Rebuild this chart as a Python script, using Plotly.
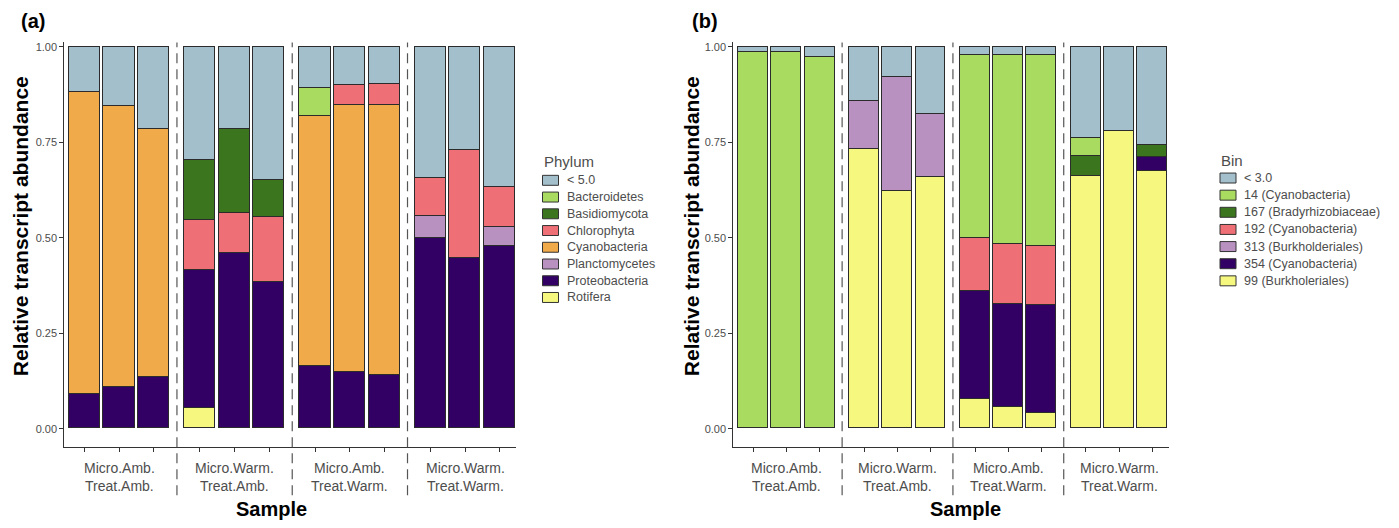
import plotly.graph_objects as go

W, H = 1399, 528

# ---------------- data ----------------
group_labels = ["Micro.Amb.<br>Treat.Amb.", "Micro.Warm.<br>Treat.Amb.",
                "Micro.Amb.<br>Treat.Warm.", "Micro.Warm.<br>Treat.Warm."]
reps_per_group = 3

# Panel (a): Phylum, segment sizes for 12 samples (3 per group)
phylum_names = ["< 5.0", "Bacteroidetes", "Basidiomycota", "Chlorophyta",
                "Cyanobacteria", "Planctomycetes", "Proteobacteria", "Rotifera"]
phylum_colors = ["#A3BFCC", "#A9DB61", "#3B761E", "#EE6F75",
                 "#F1AA4A", "#B991C1", "#320064", "#F5F77F"]
a_lt5 = [0.120, 0.155, 0.216, 0.298, 0.217, 0.350, 0.108, 0.100, 0.097, 0.343, 0.270, 0.367]
a_bacteroidetes = [0, 0, 0, 0, 0, 0, 0.074, 0, 0, 0, 0, 0]
a_basidiomycota = [0, 0, 0, 0.156, 0.218, 0.096, 0, 0, 0, 0, 0, 0]
a_chlorophyta = [0, 0, 0, 0.131, 0.106, 0.170, 0, 0.052, 0.055, 0.101, 0.283, 0.105]
a_cyanobacteria = [0.789, 0.737, 0.649, 0, 0, 0, 0.655, 0.701, 0.709, 0, 0, 0]
a_planctomycetes = [0, 0, 0, 0, 0, 0, 0, 0, 0, 0.056, 0, 0.051]
a_proteobacteria = [0.091, 0.108, 0.135, 0.362, 0.459, 0.384, 0.163, 0.147, 0.139, 0.500, 0.447, 0.477]
a_rotifera = [0, 0, 0, 0.053, 0, 0, 0, 0, 0, 0, 0, 0]

# Panel (b): Bin
bin_names = ["< 3.0", "14 (Cyanobacteria)", "167 (Bradyrhizobiaceae)", "192 (Cyanobacteria)",
             "313 (Burkholderiales)", "354 (Cyanobacteria)", "99 (Burkholeriales)"]
bin_colors = ["#A3BFCC", "#A9DB61", "#3B761E", "#EE6F75", "#B991C1", "#320064", "#F5F77F"]
b_lt3 = [0.013, 0.015, 0.027, 0.142, 0.079, 0.177, 0.023, 0.023, 0.021, 0.239, 0.220, 0.258]
b_14 = [0.987, 0.985, 0.973, 0, 0, 0, 0.477, 0.494, 0.502, 0.048, 0, 0]
b_167 = [0, 0, 0, 0, 0, 0, 0, 0, 0, 0.052, 0, 0.031]
b_192 = [0, 0, 0, 0, 0, 0, 0.141, 0.156, 0.155, 0, 0, 0]
b_313 = [0, 0, 0, 0.125, 0.298, 0.164, 0, 0, 0, 0, 0, 0]
b_354 = [0, 0, 0, 0, 0, 0, 0.283, 0.272, 0.281, 0, 0, 0.036]
b_99 = [0, 0, 0, 0.733, 0.623, 0.659, 0.076, 0.055, 0.041, 0.661, 0.780, 0.675]

y_tick_vals = [0, 0.25, 0.5, 0.75, 1.0]
y_tick_text = ["0.00", "0.25", "0.50", "0.75", "1.00"]

a_series = [a_lt5, a_bacteroidetes, a_basidiomycota, a_chlorophyta,
            a_cyanobacteria, a_planctomycetes, a_proteobacteria, a_rotifera]
b_series = [b_lt3, b_14, b_167, b_192, b_313, b_354, b_99]

# ---------------- layout helpers ----------------
GROUP_STEP = 3 + 1 / 3
n_groups = len(group_labels)
xpos = [g * GROUP_STEP + i for g in range(n_groups) for i in range(reps_per_group)]
group_centers = [g * GROUP_STEP + (reps_per_group - 1) / 2 for g in range(n_groups)]
separators = [g * GROUP_STEP + (reps_per_group - 1) + (GROUP_STEP - reps_per_group + 1) / 2
              for g in range(n_groups - 1)]

def px_x(p):
    return p / W

def px_y(p):
    return 1 - p / H

TXT = "#4D4D4D"
FONT = "Liberation Sans, Arial, sans-serif"
EDGE = "#2B2B2B"

fig = go.Figure()

def add_panel(series, names, colors, xa, ya):
    # stack bottom-up: last legend entry at the bottom
    for vals, name, col in reversed(list(zip(series, names, colors))):
        fig.add_trace(go.Bar(
            x=xpos, y=[v if v else None for v in vals], name=name,
            marker=dict(color=col, line=dict(color=EDGE, width=1)),
            width=0.9, xaxis=xa, yaxis=ya, showlegend=False,
        ))

add_panel(a_series, phylum_names, phylum_colors, "x", "y")
add_panel(b_series, bin_names, bin_colors, "x2", "y2")

y_bottom_px, y_top_px = 446.7, 40.4
ydom = [px_y(y_bottom_px), px_y(y_top_px)]

axis_common_x = dict(showline=True, linecolor="#333333", linewidth=1, ticks="outside",
                     ticklen=4, tickcolor="#333333", tickvals=xpos, showticklabels=False,
                     showgrid=False, zeroline=False)
axis_common_y = dict(showline=True, linecolor="#333333", linewidth=1, ticks="outside",
                     ticklen=4, tickcolor="#333333", tickvals=y_tick_vals, ticktext=y_tick_text,
                     tickfont=dict(family=FONT, size=11, color=TXT), range=[-0.048, 1.012],
                     showgrid=False, zeroline=False)

last = xpos[-1]
fig.update_layout(
    width=W, height=H, margin=dict(l=0, r=0, t=0, b=0),
    paper_bgcolor="white", plot_bgcolor="white", barmode="stack", bargap=0,
    xaxis=dict(domain=[px_x(64.3), px_x(516)], range=[-0.59, last + 0.47], anchor="y", **axis_common_x),
    yaxis=dict(domain=ydom, anchor="x", **axis_common_y),
    xaxis2=dict(domain=[px_x(733.3), px_x(1169)], range=[-0.607, last + 0.5], anchor="y2", **axis_common_x),
    yaxis2=dict(domain=ydom, anchor="x2", **axis_common_y),
)

shapes = []
annotations = []

for xa in ["x", "x2"]:
    for s in separators:
        shapes.append(dict(type="line", xref=xa, yref="paper", x0=s, x1=s,
                           y0=px_y(495), y1=px_y(40.7),
                           line=dict(color="#555555", width=1.2, dash="10px,6px")))
    for gc, lab in zip(group_centers, group_labels):
        annotations.append(dict(xref=xa, yref="paper", x=gc, y=px_y(476.5), text=lab,
                                showarrow=False, xanchor="center", yanchor="middle",
                                font=dict(family=FONT, size=14, color=TXT)))

# axis titles and panel tags
for x, tag in [(33, "(a)"), (705, "(b)")]:
    annotations.append(dict(xref="paper", yref="paper", x=px_x(x), y=px_y(19), text=f"<b>{tag}</b>",
                            showarrow=False, xanchor="center", yanchor="middle",
                            font=dict(family=FONT, size=20, color="black")))
for x in [20, 691]:
    annotations.append(dict(xref="paper", yref="paper", x=px_x(x), y=px_y(225),
                            text="<b>Relative transcript abundance</b>", textangle=-90,
                            showarrow=False, xanchor="center", yanchor="middle",
                            font=dict(family=FONT, size=21, color="black")))
for x in [271, 965]:
    annotations.append(dict(xref="paper", yref="paper", x=px_x(x), y=px_y(509), text="<b>Sample</b>",
                            showarrow=False, xanchor="center", yanchor="middle",
                            font=dict(family=FONT, size=20, color="black")))

# legends (drawn manually)
def add_legend(title, names, colors, box_x, title_y, first_y, step):
    annotations.append(dict(xref="paper", yref="paper", x=px_x(box_x - 1), y=px_y(title_y), text=title,
                            showarrow=False, xanchor="left", yanchor="middle",
                            font=dict(family=FONT, size=15, color=TXT)))
    for k, (n, c) in enumerate(zip(names, colors)):
        cy = first_y + k * step
        shapes.append(dict(type="rect", xref="paper", yref="paper",
                           x0=px_x(box_x), x1=px_x(box_x + 16), y0=px_y(cy + 5), y1=px_y(cy - 5),
                           fillcolor=c, line=dict(color="#333333", width=1)))
        annotations.append(dict(xref="paper", yref="paper", x=px_x(box_x + 22), y=px_y(cy), text=n,
                                showarrow=False, xanchor="left", yanchor="middle",
                                font=dict(family=FONT, size=12.5, color=TXT)))

add_legend("Phylum", phylum_names, phylum_colors, 542.5, 160, 179, 16.8)
add_legend("Bin", bin_names, bin_colors, 1220, 159, 176.7, 17.2)

fig.update_layout(shapes=shapes, annotations=annotations)
fig.write_html("out.html")
